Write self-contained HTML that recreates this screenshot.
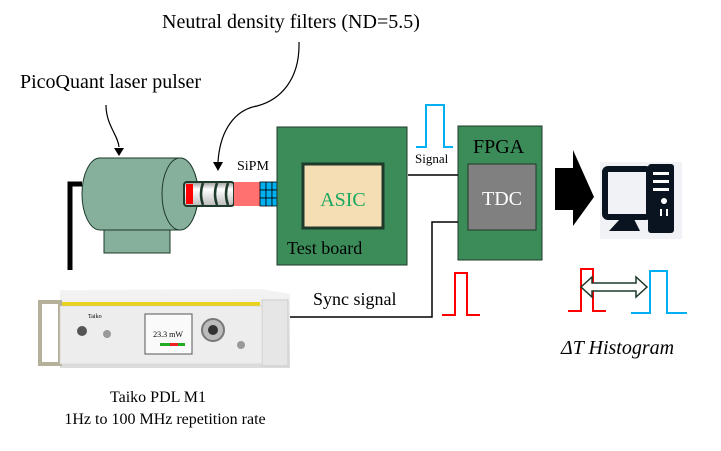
<!DOCTYPE html>
<html><head><meta charset="utf-8"><style>
html,body{margin:0;padding:0;background:#fff;width:721px;height:451px;overflow:hidden}
svg{display:block}
text{font-family:"Liberation Serif",serif}
</style></head><body>
<svg width="721" height="451" viewBox="0 0 721 451" xmlns="http://www.w3.org/2000/svg">
<defs>
<linearGradient id="fg" x1="0" y1="0" x2="0" y2="1"><stop offset="0" stop-color="#999"/><stop offset="0.3" stop-color="#fff"/><stop offset="1" stop-color="#bbb"/></linearGradient>
<linearGradient id="dev" x1="0" y1="0" x2="0" y2="1"><stop offset="0" stop-color="#f4f4f4"/><stop offset="1" stop-color="#dcdcdc"/></linearGradient>
</defs>
<text x="162" y="28" font-size="20">Neutral density filters (ND=5.5)</text>
<text x="20" y="88" font-size="20">PicoQuant laser pulser</text>
<!-- curves -->
<path d="M299,42 C300,80 280,100 257,106 C235,110 220,130 218,162" fill="none" stroke="#000" stroke-width="1.2"/>
<polygon points="213,162 223,162 218,171" fill="#000"/>
<path d="M106,105 C106,125 118,135 119,147" fill="none" stroke="#000" stroke-width="1.2"/>
<polygon points="114,148 124,148 119,156" fill="#000"/>
<!-- cable -->
<path d="M70,270 V184 H82" fill="none" stroke="#000" stroke-width="5"/>
<!-- laser -->
<rect x="104" y="225" width="66" height="28" fill="#86b09b" stroke="#1e3a2a" stroke-width="1"/>
<path d="M100,158 H180 A18,36 0 0 1 180,230 H100 A18,36 0 0 1 100,158 Z" fill="#86b09b" stroke="#1e3a2a" stroke-width="1"/>
<ellipse cx="180" cy="194" rx="18" ry="36" fill="#86b09b" stroke="#1e3a2a" stroke-width="1"/>
<!-- filters -->
<rect x="184" y="182" width="50" height="24" rx="3" fill="url(#fg)" stroke="#1e3a2a" stroke-width="2"/>
<rect x="186" y="184" width="7" height="20" fill="#f00"/>
<path d="M203,183 q-4,11 0,22 M217,183 q-4,11 0,22 M228,183 q-4,11 0,22" stroke="#1e3a2a" stroke-width="2.5" fill="none"/>
<rect x="234" y="182" width="26" height="24" fill="#ff7070"/>
<g fill="#00b0f0" stroke="#000" stroke-width="0.8">
<rect x="260" y="182" width="6" height="8"/><rect x="266" y="182" width="6" height="8"/><rect x="272" y="182" width="5" height="8"/>
<rect x="260" y="190" width="6" height="8"/><rect x="266" y="190" width="6" height="8"/><rect x="272" y="190" width="5" height="8"/>
<rect x="260" y="198" width="6" height="8"/><rect x="266" y="198" width="6" height="8"/><rect x="272" y="198" width="5" height="8"/>
</g>
<text x="237" y="170" font-size="14">SiPM</text>
<!-- test board -->
<rect x="277" y="127" width="130" height="138" fill="#3c8c5a" stroke="#1e3a2a" stroke-width="1"/>
<rect x="303" y="164" width="80" height="64" fill="#f5deb3" stroke="#1e3a2a" stroke-width="3"/>
<text x="343" y="206" font-size="20" fill="#1aa860" text-anchor="middle">ASIC</text>
<text x="287" y="254" font-size="18">Test board</text>
<!-- FPGA -->
<rect x="458" y="126" width="84" height="134" fill="#3c8c5a" stroke="#1e3a2a" stroke-width="1"/>
<text x="473" y="153" font-size="20">FPGA</text>
<rect x="468" y="164" width="68" height="66" fill="#808080" stroke="#1e3a2a" stroke-width="1"/>
<text x="502" y="205" font-size="20" fill="#fff" text-anchor="middle">TDC</text>
<!-- signal -->
<line x1="408" y1="175" x2="458" y2="175" stroke="#000" stroke-width="1.5"/>
<text x="415" y="163" font-size="13">Signal</text>
<polyline points="416,147 426,147 426,105 444,105 444,147 453,147" fill="none" stroke="#00b0f0" stroke-width="2"/>
<!-- sync -->
<polyline points="290,317 432,317 432,222 458,222" fill="none" stroke="#000" stroke-width="1.5"/>
<text x="313" y="305" font-size="18">Sync signal</text>
<polyline points="442,315 455,315 455,273 467,273 467,315 480,315" fill="none" stroke="#f00" stroke-width="2"/>
<!-- arrow -->
<polygon points="555,168 573,168 573,150 594,197 573,226 573,210 555,210" fill="#000"/>
<!-- computer -->
<rect x="600" y="162" width="82" height="77" fill="#f1f2f6"/>
<rect x="605" y="169" width="44" height="48" rx="3" fill="none" stroke="#0a1420" stroke-width="6"/>
<polygon points="620,219 634,219 640,231 609,231" fill="#0a1420"/>
<rect x="649" y="163" width="3" height="60" fill="#f1f2f6"/>
<rect x="648" y="164" width="26" height="69" rx="3" fill="#0a1420"/>
<rect x="653" y="172" width="16" height="3" fill="#fff"/><rect x="653" y="180" width="16" height="3" fill="#fff"/><rect x="653" y="188" width="16" height="3" fill="#fff"/>
<circle cx="664" cy="201" r="3" fill="#fff"/>
<rect x="660" y="209" width="2" height="7" fill="#fff"/><rect x="666" y="209" width="2" height="7" fill="#fff"/>
<!-- histogram pulses -->
<polyline points="568,311 581,311 581,269 593,269 593,311 606,311" fill="none" stroke="#f00" stroke-width="2"/>
<polyline points="631,313 650,313 650,271 667,271 667,313 687,313" fill="none" stroke="#00b0f0" stroke-width="2"/>
<path d="M581,287 L592,277 V283 H636 V277 L647,287 L636,297 V291 H592 V297 Z" fill="#fff" stroke="#1e3a2a" stroke-width="1.5"/>
<text x="561" y="354" font-size="20" font-style="italic" font-family="DejaVu Serif,serif">ΔT Histogram</text>
<!-- device -->
<polygon points="60,290 262,289 290,294 290,368 60,368" fill="url(#dev)"/>
<rect x="60" y="302" width="200" height="4" fill="#e8d21a"/>
<rect x="40" y="302" width="20" height="62" fill="none" stroke="#b5b09a" stroke-width="4"/>
<rect x="262" y="300" width="26" height="66" fill="#e6e6e6" stroke="#ccc" stroke-width="1"/>
<rect x="60" y="306" width="202" height="58" fill="#ededed" stroke="#ccc" stroke-width="0.5"/>
<rect x="145" y="314" width="47" height="40" fill="#fafafa" stroke="#555" stroke-width="1"/>
<text x="168" y="337" font-size="8" font-family="Liberation Sans,sans-serif" text-anchor="middle">23.3 mW</text>
<rect x="160" y="343" width="25" height="3" fill="#2a2"/><rect x="170" y="343" width="8" height="3" fill="#e22"/>
<circle cx="213" cy="330" r="11" fill="#bbb" stroke="#777" stroke-width="2"/><circle cx="213" cy="330" r="5" fill="#333"/>
<circle cx="82" cy="331" r="5" fill="#555"/>
<circle cx="107" cy="334" r="4" fill="#999"/>
<circle cx="241" cy="345" r="4" fill="#999"/>
<text x="88" y="318" font-size="6" font-family="Liberation Sans,sans-serif">Taiko</text>
<rect x="290" y="316" width="0" height="2"/>
<text x="158" y="402" font-size="16" text-anchor="middle">Taiko PDL M1</text>
<text x="165" y="424" font-size="16" text-anchor="middle">1Hz to 100 MHz repetition rate</text>
</svg>
</body></html>
